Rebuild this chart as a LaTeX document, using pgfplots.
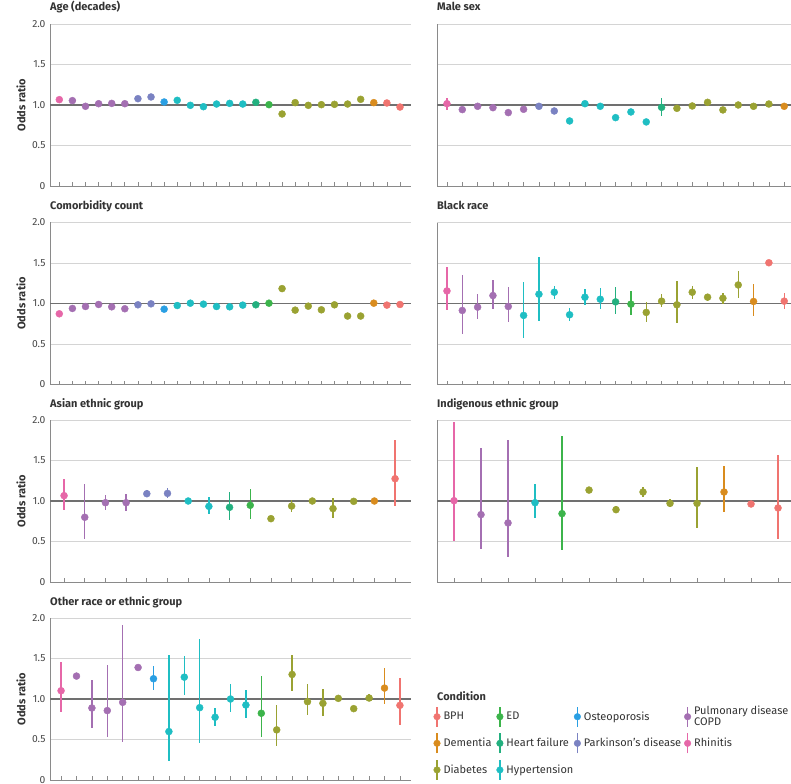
\documentclass[border=0pt]{standalone}
\usepackage{pgfplots}
\pgfplotsset{compat=1.18}
\usepackage{pgfplotstable}
\usepackage{fontspec}
\setmainfont{Fira Sans}

\definecolor{c1}{HTML}{F07470}  % BPH
\definecolor{c2}{HTML}{D98C1E}  % Dementia
\definecolor{c3}{HTML}{9AA232}  % Diabetes
\definecolor{c4}{HTML}{3CB44B}  % ED
\definecolor{c5}{HTML}{23B07F}  % Heart failure
\definecolor{c6}{HTML}{1FBEC3}  % Hypertension
\definecolor{c7}{HTML}{2A9FE3}  % Osteoporosis
\definecolor{c8}{HTML}{7A82C2}  % Parkinson's
\definecolor{c9}{HTML}{A46FB2}  % Pulmonary disease COPD
\definecolor{c10}{HTML}{E667A8} % Rhinitis
\definecolor{gridc}{HTML}{D4D4D4}
\definecolor{axc}{HTML}{8A8A8A}
\definecolor{refc}{HTML}{707070}
\definecolor{txtc}{HTML}{333333}

% columns: x y lo hi c  (c: 1 BPH,2 Dementia,3 Diabetes,4 ED,5 HF,6 Hypertension,7 Osteoporosis,8 Parkinson,9 Pulmonary,10 Rhinitis)
\pgfplotstableread{
x y lo hi c
0 1.066 1.066 1.066 10
1 1.054 1.054 1.054 9
2 0.984 0.984 0.984 9
3 1.016 1.016 1.016 9
4 1.020 1.020 1.020 9
5 1.016 1.016 1.016 9
6 1.078 1.078 1.078 8
7 1.099 1.099 1.099 8
8 1.037 1.037 1.037 7
9 1.058 1.058 1.058 6
10 0.996 0.996 0.996 6
11 0.979 0.979 0.979 6
12 1.012 1.012 1.012 6
13 1.020 1.020 1.020 6
14 1.012 1.012 1.012 6
15 1.033 0.990 1.074 5
16 1.004 1.004 1.004 4
17 0.889 0.889 0.889 3
18 1.029 1.029 1.029 3
19 0.996 0.996 0.996 3
20 1.004 1.004 1.004 3
21 1.008 1.008 1.008 3
22 1.012 1.012 1.012 3
23 1.070 1.070 1.070 3
24 1.029 1.029 1.029 2
25 1.025 1.025 1.025 1
26 0.975 0.975 0.975 1
}\tAge

\pgfplotstableread{
x y lo hi c
0 1.016 0.940 1.090 10
1 0.943 0.943 0.943 9
2 0.984 0.955 1.015 9
3 0.967 0.940 0.995 9
4 0.906 0.906 0.906 9
5 0.947 0.920 0.975 9
6 0.984 0.984 0.984 8
7 0.926 0.926 0.926 8
8 0.803 0.803 0.803 6
9 1.016 1.016 1.016 6
10 0.984 0.984 0.984 6
11 0.844 0.844 0.844 6
12 0.914 0.914 0.914 6
13 0.791 0.765 0.820 6
14 0.971 0.860 1.090 5
15 0.959 0.959 0.959 3
16 0.988 0.988 0.988 3
17 1.033 1.033 1.033 3
18 0.939 0.939 0.939 3
19 1.000 1.000 1.000 3
20 0.984 0.984 0.984 3
21 1.012 1.012 1.012 3
22 0.984 0.984 0.984 2
}\tMale

\pgfplotstableread{
x y lo hi c
0 0.873 0.873 0.873 10
1 0.939 0.939 0.939 9
2 0.963 0.963 0.963 9
3 0.988 0.988 0.988 9
4 0.959 0.959 0.959 9
5 0.935 0.935 0.935 9
6 0.984 0.984 0.984 8
7 0.996 0.996 0.996 8
8 0.930 0.930 0.930 7
9 0.975 0.975 0.975 6
10 1.004 1.004 1.004 6
11 0.992 0.992 0.992 6
12 0.963 0.963 0.963 6
13 0.959 0.959 0.959 6
14 0.980 0.980 0.980 6
15 0.984 0.984 0.984 5
16 1.004 1.004 1.004 4
17 1.184 1.184 1.184 3
18 0.918 0.918 0.918 3
19 0.967 0.967 0.967 3
20 0.922 0.922 0.922 3
21 0.984 0.984 0.984 3
22 0.845 0.845 0.845 3
23 0.845 0.845 0.845 3
24 1.004 1.004 1.004 2
25 0.980 0.980 0.980 1
26 0.988 0.988 0.988 1
}\tComorb

\pgfplotstableread{
x y lo hi c
0 1.155 0.918 1.454 10
1 0.914 0.620 1.352 9
2 0.955 0.812 1.119 9
3 1.098 0.930 1.294 9
4 0.963 0.771 1.200 9
5 0.853 0.575 1.262 6
6 1.115 0.787 1.577 6
7 1.139 1.061 1.217 6
8 0.861 0.783 0.939 6
9 1.078 0.980 1.176 6
10 1.053 0.930 1.192 6
11 1.020 0.865 1.209 5
12 0.992 0.861 1.151 4
13 0.890 0.775 1.016 3
14 1.029 0.951 1.115 3
15 0.984 0.759 1.278 3
16 1.139 1.061 1.217 3
17 1.078 1.033 1.123 3
18 1.065 1.000 1.135 3
19 1.229 1.074 1.397 3
20 1.025 0.849 1.237 2
21 1.503 1.503 1.503 1
22 1.029 0.930 1.131 1
}\tBlack

\pgfplotstableread{
x y lo hi c
0 1.066 0.889 1.271 10
1 0.799 0.532 1.205 9
2 0.979 0.893 1.074 9
3 0.979 0.881 1.082 9
4 1.090 1.050 1.136 8
5 1.094 1.037 1.156 8
6 1.000 1.000 1.000 6
7 0.934 0.836 1.049 6
8 0.922 0.766 1.115 5
9 0.947 0.782 1.144 4
10 0.782 0.782 0.782 3
11 0.938 0.869 1.012 3
12 1.000 1.000 1.000 3
13 0.906 0.791 1.033 3
14 0.996 0.996 0.996 3
15 1.000 0.980 1.020 2
16 1.275 0.938 1.747 1
}\tAsian

\pgfplotstableread{
x y lo hi c
0 1.004 0.508 1.980 10
1 0.832 0.410 1.660 9
2 0.729 0.304 1.747 9
3 0.979 0.791 1.205 6
4 0.844 0.392 1.797 4
5 1.135 1.135 1.135 3
6 0.893 0.848 0.934 3
7 1.111 1.053 1.168 3
8 0.971 0.922 1.029 3
9 0.971 0.663 1.423 3
10 1.111 0.860 1.435 2
11 0.963 0.963 0.963 1
12 0.914 0.532 1.569 1
}\tIndig

\pgfplotstableread{
x y lo hi c
0 1.102 0.836 1.451 10
1 1.283 1.283 1.283 9
2 0.889 0.639 1.234 9
3 0.857 0.525 1.414 9
4 0.959 0.475 1.918 9
5 1.389 1.389 1.389 9
6 1.250 1.115 1.402 7
7 0.598 0.230 1.549 6
8 1.270 1.049 1.537 6
9 0.893 0.463 1.738 6
10 0.775 0.672 0.893 6
11 1.000 0.844 1.180 6
12 0.926 0.770 1.107 6
13 0.824 0.537 1.283 4
14 0.619 0.414 0.922 3
15 1.303 1.094 1.549 3
16 0.967 0.799 1.180 3
17 0.947 0.795 1.127 3
18 1.008 1.008 1.008 3
19 0.881 0.881 0.881 3
20 1.012 0.970 1.060 3
21 1.135 0.939 1.377 2
22 0.922 0.680 1.258 1
}\tOther

\newcommand{\panelplots}[1]{%
  \pgfplotsinvokeforeach{1,...,10}{%
    \addplot[c##1, only marks, mark=*, mark size=3.5pt,
      mark options={draw=none, fill=c##1},
      restrict expr to domain={\thisrow{c}}{##1:##1},
      error bars/.cd, y dir=both, y explicit, error mark=none,
      error bar style={line width=1.4pt, c##1}]
      table[x=x, y=y, y error plus expr={\thisrow{hi}-\thisrow{y}},
            y error minus expr={\thisrow{y}-\thisrow{lo}}] {#1};
  }%
}

\pgfplotsset{
  panel/.style={
    scale only axis, width=361pt, height=162pt,
    ymin=0, ymax=2,
    ytick={0,0.5,1.5,2},
    extra y ticks={1},
    extra y tick style={major tick length=0pt, grid style={refc, line width=1.3pt}},
    ymajorgrids, grid style={gridc, line width=0.9pt},
    axis x line*=bottom, axis y line*=left,
    axis line style={axc, line width=0.9pt},
    xticklabels={}, tick align=inside, major tick length=4pt,
    xtick style={axc, line width=0.7pt},
    ytick style={draw=none},
    /pgf/number format/assume math mode=true,
    tick label style={font=\fontsize{10.3}{12}\selectfont, text=txtc!90},
    yticklabel style={xshift=-1pt},
    title style={at={(0,1)}, anchor=base west, yshift=7pt, inner sep=0pt,
      font=\bfseries\fontsize{11}{12}\selectfont, text=txtc},
  },
  leftpanel/.style={panel,
    yticklabels={0,0.5,1.5,2.0}, extra y tick labels={1.0},
    ylabel={Odds ratio},
    ylabel style={at={(axis description cs:-0.080,0.5)}, rotate=0, anchor=center,
      font=\bfseries\fontsize{11}{12}\selectfont, text=txtc}},
  rightpanel/.style={panel, yticklabels={}, extra y tick labels={}},
}

\begin{document}
\begin{tikzpicture}
\useasboundingbox (0pt,0pt) rectangle (791pt,-783pt);

\begin{axis}[leftpanel, at={(50pt,-186pt)}, anchor=south west,
  xmin=-0.71, xmax=26.84, xtick={0,...,26}, title={Age (decades)}]
\panelplots{\tAge}
\end{axis}

\begin{axis}[rightpanel, at={(437pt,-186pt)}, anchor=south west,
  xmin=-0.65, xmax=22.9, xtick={0,...,22}, title={Male sex}]
\panelplots{\tMale}
\end{axis}

\begin{axis}[leftpanel, at={(50pt,-384.5pt)}, anchor=south west,
  xmin=-0.71, xmax=26.84, xtick={0,...,26}, title={Comorbidity count}]
\panelplots{\tComorb}
\end{axis}

\begin{axis}[rightpanel, at={(437pt,-384.5pt)}, anchor=south west,
  xmin=-0.65, xmax=22.9, xtick={0,...,22}, title={Black race}]
\panelplots{\tBlack}
\end{axis}

\begin{axis}[leftpanel, at={(50pt,-582pt)}, anchor=south west,
  xmin=-0.68, xmax=16.77, xtick={0,...,16}, title={Asian ethnic group}]
\panelplots{\tAsian}
\end{axis}

\begin{axis}[rightpanel, at={(437pt,-582pt)}, anchor=south west,
  xmin=-0.63, xmax=12.74, xtick={0,...,12}, title={Indigenous ethnic group}]
\panelplots{\tIndig}
\end{axis}

\begin{axis}[leftpanel, at={(50pt,-780pt)}, anchor=south west,
  xmin=-0.72, xmax=22.72, xtick={0,...,22}, title={Other race or ethnic group}]
\panelplots{\tOther}
\end{axis}

\node[anchor=base west, inner sep=0pt, font=\bfseries\fontsize{11}{12}\selectfont, text=txtc]
  at (437pt,-700pt) {Condition};

\begin{axis}[at={(433.5pt,-783pt)}, anchor=south west, scale only axis,
  width=300pt, height=79.6pt, hide axis, xmin=0, xmax=1, ymin=0, ymax=1,
  legend columns=4, legend cell align=left,
  legend image code/.code={%
    \draw[#1, line width=1.2pt] (0pt,-10pt) -- (0pt,10pt);
    \fill[#1] (0pt,0pt) circle (3.3pt);},
  legend style={at={(0,1)}, anchor=north west, draw=none, fill=none,
    inner sep=0pt, outer sep=0pt, row sep=0pt,
    font=\fontsize{11}{11.5}\selectfont, text=txtc,
    nodes={minimum height=26.6pt, inner sep=0pt, align=left},
    /tikz/every odd column/.append style={column sep=3pt}}]
\addlegendimage{c1}\addlegendentry{\makebox[52.9pt][l]{BPH}}
\addlegendimage{c4}\addlegendentry{\makebox[67.5pt][l]{ED}}
\addlegendimage{c7}\addlegendentry{\makebox[100.2pt][l]{Osteoporosis}}
\addlegendimage{c9}\addlegendentry{Pulmonary disease\\COPD}
\addlegendimage{c2}\addlegendentry{\makebox[52.9pt][l]{Dementia}}
\addlegendimage{c5}\addlegendentry{\makebox[67.5pt][l]{Heart failure}}
\addlegendimage{c8}\addlegendentry{\makebox[100.2pt][l]{Parkinson’s disease}}
\addlegendimage{c10}\addlegendentry{Rhinitis}
\addlegendimage{c3}\addlegendentry{\makebox[52.9pt][l]{Diabetes}}
\addlegendimage{c6}\addlegendentry{\makebox[67.5pt][l]{Hypertension}}
\end{axis}
\end{tikzpicture}
\end{document}
